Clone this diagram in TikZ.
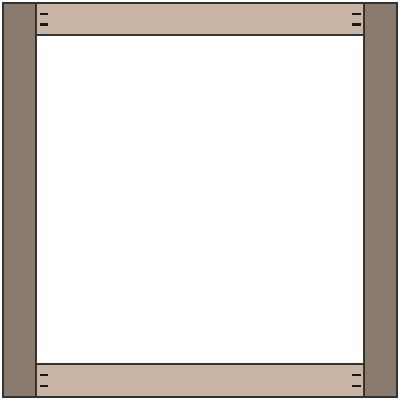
\documentclass[tikz,border=0pt]{standalone}
\definecolor{postc}{HTML}{8A7B6D}
\definecolor{railc}{HTML}{C9B5A4}
\definecolor{edgec}{HTML}{333333}
\tikzset{
  post/.style={fill=postc,draw=edgec,line width=1.2pt},
  rail/.style={fill=railc,draw=edgec,line width=1.2pt},
  screw/.style={draw=black!90,line width=2.3pt}
}
\begin{document}
\begin{tikzpicture}[x=1pt,y=-1pt]
\useasboundingbox (0,0) rectangle (400,402);
\fill[white] (0,0) rectangle (400,402);
\draw[rail] (36,3) rectangle (364,35);
\draw[rail] (36,364) rectangle (364,397);
\draw[post] (3,3) rectangle (36,397);
\draw[post] (364,3) rectangle (397,397);
\foreach \y in {14,24.5,375,386}{
  \draw[screw] (40,\y) -- (48,\y);
  \draw[screw] (352,\y) -- (361,\y);
}
\end{tikzpicture}
\end{document}
